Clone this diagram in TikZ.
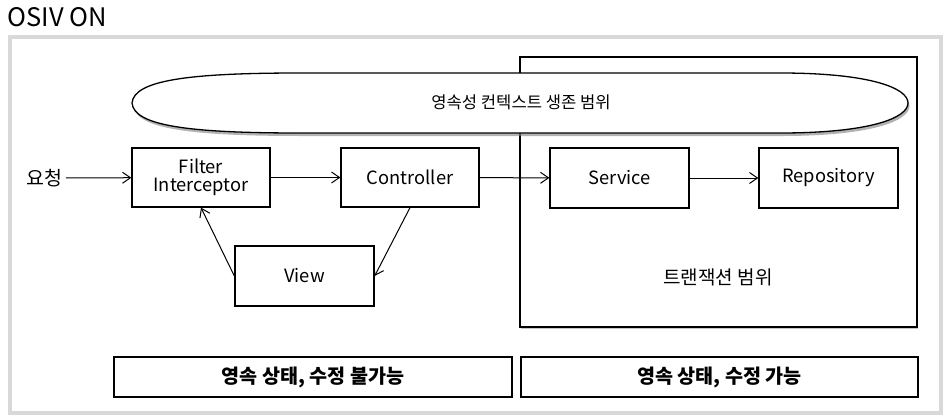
\documentclass[tikz,border=0pt]{standalone}
\usepackage{fontspec}
\setmainfont{Noto Sans CJK KR}
\usetikzlibrary{arrows.meta, shadows}

\begin{document}
\begin{tikzpicture}[x=1pt, y=-1pt, line width=1pt,
    box/.style={draw, line width=1.3pt, fill=white, minimum width=139pt, minimum height=59pt,
      align=center, font=\fontsize{18.3}{19.5}\selectfont, inner sep=0pt},
    statebox/.style={draw, line width=1.3pt, fill=white, minimum height=40pt, inner sep=0pt,
      font=\fontsize{19.6}{21}\bfseries\selectfont, drop shadow={shadow xshift=0.8pt, shadow yshift=-1.2pt, opacity=0.45}},
    flow/.style={-{Straight Barb[length=8pt, width=11pt]}, line width=1pt}]
    \useasboundingbox (0,0) rectangle (951,418);

    % Frame and title
    \draw[black!15, line width=3.5pt] (10,37) rectangle (941,413);
    \node[anchor=west, inner sep=0pt, font=\fontsize{25.5}{27}\selectfont] (title) at (7,17) {OSIV ON};

    % Transaction scope
    \node[draw, line width=1.3pt, fill=white, minimum width=397pt, minimum height=270pt, inner sep=0pt,
      drop shadow={shadow xshift=1pt, shadow yshift=-1.5pt, opacity=0.45}] (tx) at (718.5,192) {};
    \node[font=\fontsize{19}{21}\selectfont] (txlabel) at (718,277) {트랜잭션 범위};

    % Persistence context scope
    \filldraw[fill=white, line width=1.3pt, drop shadow={shadow xshift=1.5pt, shadow yshift=-3pt, opacity=0.6}]
      (132,103) .. controls (134,80) and (190,73) .. (300,73) -- (780,73)
      .. controls (870,73) and (908,88) .. (908,103)
      .. controls (908,118) and (870,133) .. (780,133) -- (300,133)
      .. controls (190,133) and (134,126) .. (132,103) -- cycle;
    \node[font=\fontsize{16.6}{19}\selectfont] (ctx) at (521,102) {영속성 컨텍스트 생존 범위};

    % Boxes
    \node[font=\fontsize{19.5}{21}\selectfont] (req) at (44,178) {요청};
    \node[box, minimum width=138pt] (filter) at (201,177.5) {Filter\\[-2pt]Interceptor};
    \node[box, minimum width=138pt] (ctrl) at (410,177.5) {Controller};
    \node[box, minimum height=60pt] (view) at (304.5,276) {View};
    \node[box, minimum height=60pt] (svc) at (619.5,178) {Service};
    \node[box, minimum height=60pt] (repo) at (828.5,178) {Repository};

    % Arrows
    \draw[flow] (req) -- (filter);
    \draw[flow] (filter) -- (ctrl);
    \draw[flow] (ctrl) -- (svc);
    \draw[flow] (svc) -- (repo);
    \draw[flow] (ctrl.south) -- (view.east);
    \draw[flow] (view.west) -- (filter.south);

    % State boxes
    \node[statebox, minimum width=398pt] (closed) at (313,377) {영속 상태, 수정 불가능};
    \node[statebox, minimum width=397pt] (open) at (719.5,377) {영속 상태, 수정 가능};
\end{tikzpicture}
\end{document}
